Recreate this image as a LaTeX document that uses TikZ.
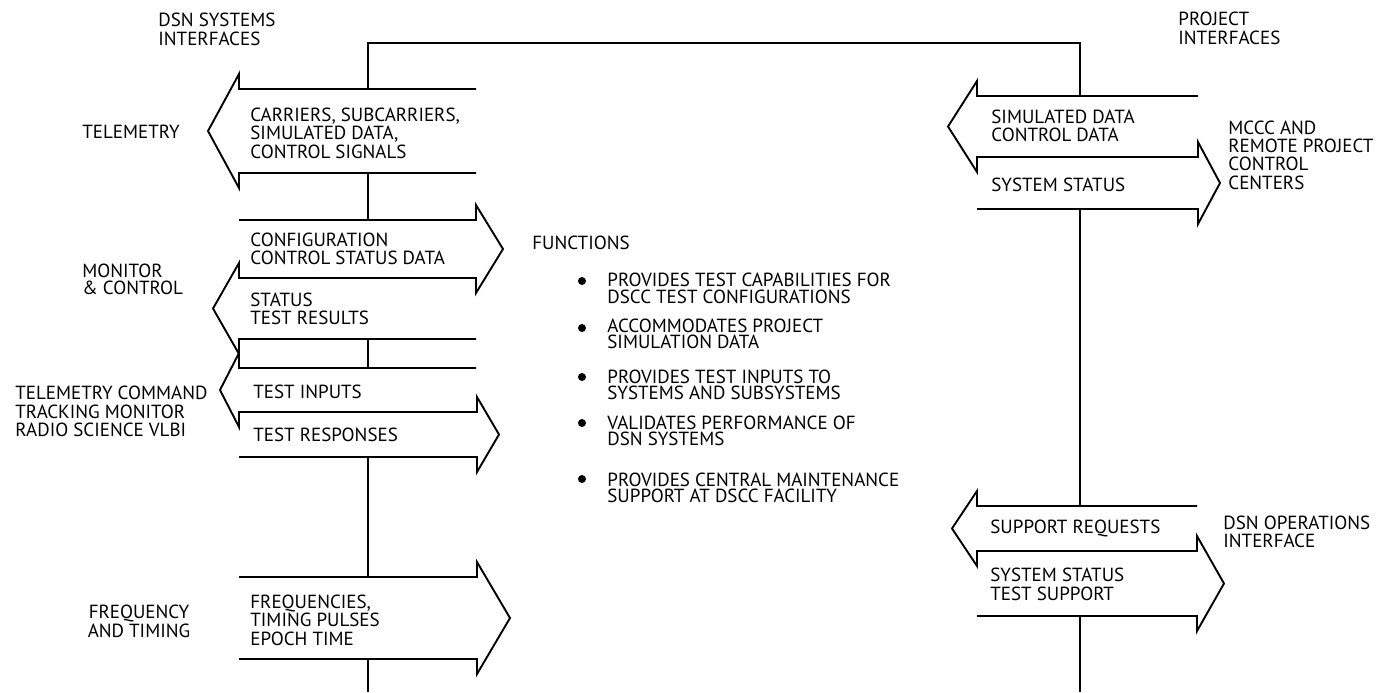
\documentclass[tikz,border=0pt]{standalone}
\usepackage{fontspec}
\setmainfont{PT Sans}
\usepackage{tikz}
\usetikzlibrary{positioning, calc}
\tikzset{
	lbl/.style   ={inner sep=0pt, align=left, font=\fontsize{9.5}{9.2}\selectfont},
	tight/.style ={inner sep=0pt, align=left, font=\fontsize{9.5}{8.2}\selectfont},
	dot/.style   ={circle, fill=black, inner sep=0pt, minimum size=4pt},
	trunk/.style ={line width=0.95pt},
	shaft/.style ={line width=0.95pt, line join=miter},
}
% open-tailed block arrows: name, x left, x right, y top, y bottom, tip depth
\newcommand{\ArrowL}[6]{%
	\draw[shaft] (#3,#4) -- (#2,#4) -- (#2,#4-15) -- (#2-#6,{(#4+#5)/2}) -- (#2,#5+15) -- (#2,#5) -- (#3,#5);
	\path (#2,#4) coordinate (#1-nw) (#3,#5) coordinate (#1-se);}
\newcommand{\ArrowR}[6]{%
	\draw[shaft] (#2,#4) -- (#3,#4) -- (#3,#4-15) -- (#3+#6,{(#4+#5)/2}) -- (#3,#5+15) -- (#3,#5) -- (#2,#5);
	\path (#2,#4) coordinate (#1-nw) (#3,#5) coordinate (#1-se);}

\begin{document}
\begin{tikzpicture}[x=0.5pt, y=-0.5pt]
	\useasboundingbox (0,0) rectangle (1388,692);
	% DSN side
	\ArrowL{tel}{239}{476}{89}{173}{31}
	\ArrowR{cfg}{239}{476}{220}{278}{27}
	\ArrowL{sts}{239}{476}{278}{339}{26}
	\ArrowL{tin}{239}{476}{368}{412}{19}
	\ArrowR{tre}{239}{477}{412}{457}{22}
	\ArrowR{frq}{239}{477}{577}{659}{33}
	% project side
	\ArrowL{sim}{977}{1198}{96}{157}{29}
	\ArrowR{sys}{977}{1198}{157}{209}{22}
	\ArrowL{sup}{977}{1197}{506}{551}{25}
	\ArrowR{sst}{977}{1197}{551}{616}{27}

	\coordinate (lTop) at (368,43);
	\coordinate (rTop) at (1080,43);
	\coordinate (lBot) at (368,692);
	\coordinate (rBot) at (1080,692);
	\draw[trunk] (tel-nw -| lTop) -- (lTop) -- (rTop) -- (sim-nw -| rTop);
	\draw[trunk] (tel-se -| lTop) -- (cfg-nw -| lTop); \draw[trunk] (sts-se -| lTop) -- (tin-nw -| lTop);
	\draw[trunk] (tre-se -| lTop) -- (frq-nw -| lTop); \draw[trunk] (frq-se -| lTop) -- (lBot);
	\draw[trunk] (sys-se -| rTop) -- (sup-nw -| rTop); \draw[trunk] (sst-se -| rTop) -- (rBot);

	\node[lbl, anchor=west] (dsnHd) at (158,29.5) {DSN SYSTEMS\\INTERFACES};
	\node[lbl, anchor=west] (prjHd) at (1178,28.5) {PROJECT\\INTERFACES};

	\node[lbl, anchor=west] (telL) at (82,132) {TELEMETRY};
	\node[lbl, anchor=west] (telT) at (250,133) {CARRIERS, SUBCARRIERS,\\SIMULATED DATA,\\CONTROL SIGNALS};
	\node[tight, anchor=west] (mcL) at (82,279.5) {MONITOR\\\& CONTROL};
	\node[lbl, anchor=west] (cfgT) at (250,249) {CONFIGURATION\\CONTROL STATUS DATA};
	\node[lbl, anchor=west] (stsT) at (250,309) {STATUS\\TEST RESULTS};
	\node[lbl, anchor=west] (subL) at (15,411.5) {TELEMETRY COMMAND\\TRACKING MONITOR\\RADIO SCIENCE VLBI};
	\node[lbl, anchor=west] (tinT) at (253,392) {TEST INPUTS};
	\node[lbl, anchor=west] (treT) at (253,435) {TEST RESPONSES};
	\node[lbl, align=center] (frqL) at (139,621.5) {FREQUENCY\\AND TIMING};
	\node[lbl, anchor=west] (frqT) at (250,620) {FREQUENCIES,\\TIMING PULSES\\EPOCH TIME};

	\node[lbl, anchor=west] (simT) at (991,126) {SIMULATED DATA\\CONTROL DATA};
	\node[lbl, anchor=west] (sysT) at (991,185) {SYSTEM STATUS};
	\node[lbl, anchor=west] (mccL) at (1228,155) {MCCC AND\\REMOTE PROJECT\\CONTROL\\CENTERS};
	\node[lbl, anchor=west] (supT) at (990,528) {SUPPORT REQUESTS};
	\node[lbl, anchor=west] (sstT) at (990,584.5) {SYSTEM STATUS\\TEST SUPPORT};
	\node[lbl, anchor=west] (opsL) at (1223,532) {DSN OPERATIONS\\INTERFACE};

	% functions list
	\node[lbl, anchor=west] (fnHd) at (532,243) {FUNCTIONS};
	\node[tight, anchor=west] (fn1) at (607,288.5) {PROVIDES TEST CAPABILITIES FOR\\DSCC TEST CONFIGURATIONS};
	\node[tight, anchor=west] (fn2) at (607,334) {ACCOMMODATES PROJECT\\SIMULATION DATA};
	\node[tight, anchor=west] (fn3) at (607,385) {PROVIDES TEST INPUTS TO\\SYSTEMS AND SUBSYSTEMS};
	\node[tight, anchor=west] (fn4) at (607,431) {VALIDATES PERFORMANCE OF\\DSN SYSTEMS};
	\node[tight, anchor=west] (fn5) at (607,488) {PROVIDES CENTRAL MAINTENANCE\\SUPPORT AT DSCC FACILITY};
	\node[dot] (d1) at (582,281) {}; \node[dot] (d2) at (582,328) {}; \node[dot] (d3) at (582,377) {};
	\node[dot] (d4) at (582,423) {}; \node[dot] (d5) at (582,479) {};
\end{tikzpicture}
\end{document}
